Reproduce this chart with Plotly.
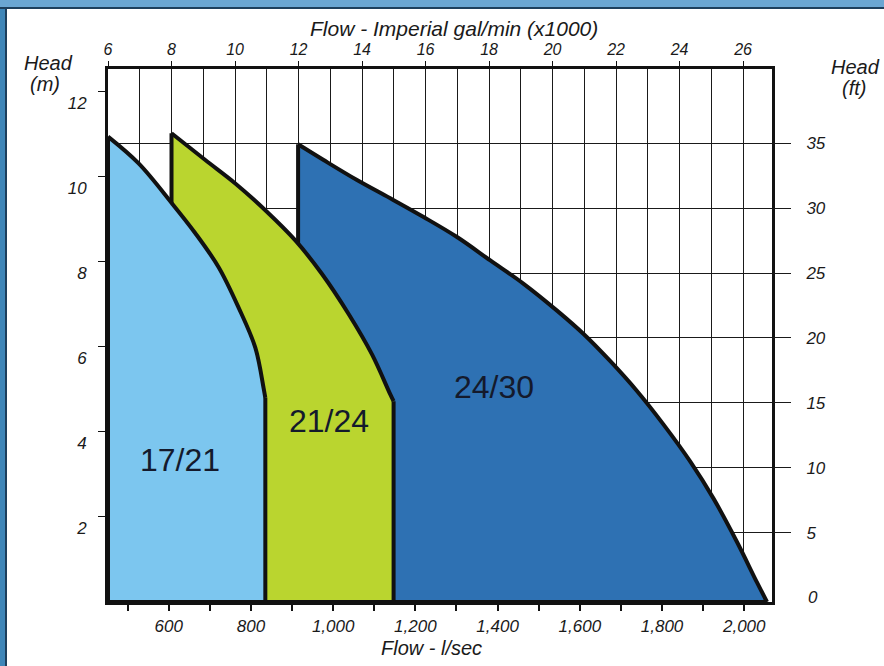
import plotly.graph_objects as go

# ---------------- data ----------------
# Pump performance envelopes: flow (l/sec) vs head (m); the first n_curve points trace the
# curved top edge, the rest close the polygon down to zero head.
flow_17_21 = [452.3, 526.8, 608, 664.7, 721.4, 770, 810.6, 830.8, 835, 835, 452.3]
head_17_21 = [10.94, 10.31, 9.37, 8.67, 7.87, 6.92, 5.98, 5.03, 4.80, 0, 0]

flow_21_24 = [606.8, 689, 762, 835, 908, 972.9, 1037.6, 1094.5, 1139, 1147, 1147, 606.8]
head_21_24 = [11.02, 10.39, 9.84, 9.21, 8.50, 7.71, 6.77, 5.82, 4.88, 4.72, 0, 0]

flow_24_30 = [914.7, 976.8, 1058, 1139, 1220, 1301.3, 1382.3, 1463.3, 1544.5, 1609.2,
              1674.2, 1739, 1803.8, 1868.8, 1925.4, 1982.4, 2031, 2055.4, 914.7]
head_24_30 = [10.76, 10.39, 9.92, 9.49, 9.05, 8.58, 8.03, 7.48, 6.85, 6.30,
              5.66, 4.96, 4.17, 3.30, 2.43, 1.41, 0.46, 0, 0]

region_labels = ["17/21", "21/24", "24/30"]
label_flow = [627, 990, 1391]
label_head = [3.33, 4.26, 5.06]

# axis ticks
lsec_major = [600, 800, 1000, 1200, 1400, 1600, 1800, 2000]
lsec_major_text = ["600", "800", "1,000", "1,200", "1,400", "1,600", "1,800", "2,000"]
lsec_minor = [500, 700, 900, 1100, 1300, 1500, 1700, 1900]
gpm_major = [6, 8, 10, 12, 14, 16, 18, 20, 22, 24, 26]
gpm_minor = [7, 9, 11, 13, 15, 17, 19, 21, 23, 25]
head_m_ticks = [2, 4, 6, 8, 10, 12]
head_ft_ticks = [5, 10, 15, 20, 25, 30, 35]

# ---------------- style ----------------
FONT = "Liberation Sans"
INK = "#1a1a1a"


def tfont(size):
    return dict(family=FONT, size=size, color=INK, style="italic")


C_LIGHT = "#7cc6ef"
C_GREEN = "#bad52f"
C_DARK = "#2e71b3"
OUTLINE = "#111111"

fig = go.Figure()

for fx, fy, col, n_curve in [(flow_24_30, head_24_30, C_DARK, 18),
                             (flow_21_24, head_21_24, C_GREEN, 10),
                             (flow_17_21, head_17_21, C_LIGHT, 9)]:
    fig.add_trace(go.Scatter(x=fx, y=fy, mode="lines", fill="toself", fillcolor=col,
                             line=dict(width=0, color=col), hoverinfo="skip",
                             showlegend=False))
    fig.add_trace(go.Scatter(x=fx[:n_curve], y=fy[:n_curve], mode="lines",
                             line=dict(color=OUTLINE, width=4, shape="spline",
                                       smoothing=1.0),
                             hoverinfo="skip", showlegend=False))
    fig.add_trace(go.Scatter(x=fx[n_curve - 1:] + fx[:1], y=fy[n_curve - 1:] + fy[:1],
                             mode="lines", line=dict(color=OUTLINE, width=4),
                             hoverinfo="skip", showlegend=False))

# anchor trace for the secondary (imperial / feet) axes
fig.add_trace(go.Scatter(x=[gpm_major[0], gpm_major[-1]], y=[0, head_ft_ticks[-1]],
                         xaxis="x2", yaxis="y2", mode="markers",
                         marker=dict(opacity=0), hoverinfo="skip", showlegend=False))

for t, fx, fy in zip(region_labels, label_flow, label_head):
    fig.add_annotation(x=fx, y=fy, xref="x", yref="y", text=t, showarrow=False,
                       xanchor="center", yanchor="middle",
                       font=dict(family=FONT, size=32, color="#141a2c"))

# margins / helpers
L, R, T, B = 108, 112, 69, 64
W, H = 884, 666
PW, PH = W - L - R, H - T - B


def xp(px):
    return (px - L) / PW


def yp(py):
    return (H - B - py) / PH


def label(px, py, text, size):
    fig.add_annotation(x=xp(px), y=yp(py), xref="paper", yref="paper", showarrow=False,
                       xanchor="center", yanchor="middle", text=text, font=tfont(size))


label(454, 28, "Flow - Imperial gal/min (x1000)", 21)
label(431, 648, "Flow - l/sec", 20)
label(48, 63, "Head", 20)
label(45, 84, "(m)", 20)
label(855, 67, "Head", 20)
label(854, 88, "(ft)", 20)
fig.add_annotation(x=xp(813), y=0, xref="paper", yref="y2", showarrow=False,
                   xanchor="center", yanchor="middle", text="0", font=tfont(17))

# frame decorations
fig.add_shape(type="rect", xref="paper", yref="paper", x0=xp(0), x1=xp(884),
              y0=yp(8), y1=yp(0), fillcolor="#6aa6d2", line_width=0, layer="below")
fig.add_shape(type="line", xref="paper", yref="paper", x0=xp(0), x1=xp(884),
              y0=yp(8), y1=yp(8), line=dict(color="#1d3f5c", width=2))
fig.add_shape(type="rect", xref="paper", yref="paper", x0=xp(0), x1=xp(5),
              y0=yp(666), y1=yp(8), fillcolor="#3f86b8", line_width=0, layer="below")
fig.add_shape(type="line", xref="paper", yref="paper", x0=xp(6), x1=xp(6),
              y0=yp(666), y1=yp(8), line=dict(color="#1d3f5c", width=2))

axis_line = dict(showline=True, linecolor=OUTLINE, linewidth=3, zeroline=False)

fig.update_layout(
    width=W, height=H,
    margin=dict(l=L, r=R, t=T, b=B, pad=0),
    paper_bgcolor="white", plot_bgcolor="white",
    xaxis=dict(range=[452.3, 2067.5], tickvals=lsec_major, ticktext=lsec_major_text,
               ticks="outside", ticklen=6, tickcolor=OUTLINE, tickwidth=1.5,
               showgrid=False, mirror=True, tickfont=tfont(17), ticklabelstandoff=1,
               minor=dict(tickvals=lsec_minor, ticks="outside", ticklen=6,
                          tickcolor=OUTLINE, tickwidth=1.5, showgrid=False),
               **axis_line),
    xaxis2=dict(range=[6, 26.91], overlaying="x", anchor="y", side="top",
                tickvals=gpm_major, ticks="outside", ticklen=7, tickcolor=OUTLINE,
                showgrid=True, gridcolor=INK, gridwidth=1, tickfont=tfont(16),
                minor=dict(tickvals=gpm_minor, showgrid=True, gridcolor=INK,
                           gridwidth=1, ticks=""),
                showline=False, zeroline=False),
    yaxis=dict(range=[0, 12.53], tickvals=head_m_ticks, ticks="outside", ticklen=7,
               tickcolor=OUTLINE, showgrid=False, mirror=True, tickfont=tfont(17),
               ticklabelshift=11, ticklabelstandoff=8, **axis_line),
    yaxis2=dict(range=[-0.32, 40.70], overlaying="y", anchor="x", side="right",
                tickvals=head_ft_ticks, ticks="outside", ticklen=18, tickcolor=INK,
                showgrid=True, gridcolor=INK, gridwidth=1, tickfont=tfont(17),
                ticklabelstandoff=12, showline=False, zeroline=False),
)

fig.write_html("out.html",
               config={"displayModeBar": False},
               post_script="document.body.style.margin='0';"
                           "document.body.style.overflow='hidden';")
